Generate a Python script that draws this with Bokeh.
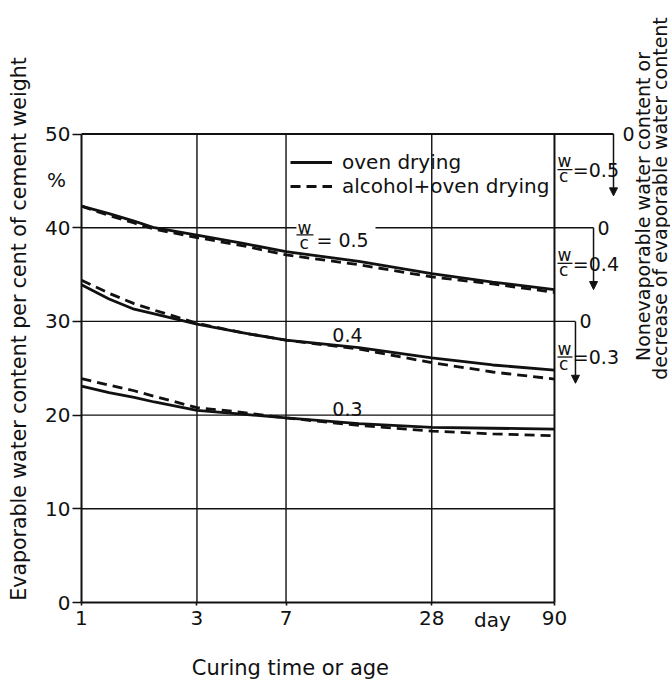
from math import pi
from bokeh.plotting import figure
from bokeh.models import (Range1d, FixedTicker, NumeralTickFormatter, Arrow,
                          NormalHead, Legend, LegendItem)
from bokeh.core.properties import value
from bokeh.embed import file_html
from bokeh.resources import INLINE

# ---------------- data ----------------
age_days = [1, 1.3, 1.65, 2, 3, 4.6, 7, 14, 28, 50, 90]
oven_wc05 = [42.3, 41.5, 40.7, 40.0, 39.2, 38.35, 37.45, 36.4, 35.1, 34.2, 33.4]
alcohol_wc05 = [42.3, 41.3, 40.5, 39.85, 38.95, 38.1, 37.1, 36.05, 34.75, 34.0, 33.1]
oven_wc04 = [33.9, 32.4, 31.3, 30.8, 29.7, 28.8, 28.0, 27.2, 26.1, 25.35, 24.8]
alcohol_wc04 = [34.4, 33.0, 31.9, 31.2, 29.8, 28.8, 28.0, 27.05, 25.6, 24.6, 23.85]
oven_wc03 = [23.1, 22.4, 21.9, 21.4, 20.5, 20.1, 19.7, 19.1, 18.7, 18.6, 18.5]
alcohol_wc03 = [23.9, 23.2, 22.6, 22.0, 20.8, 20.3, 19.7, 18.9, 18.3, 18.0, 17.8]

x_ticks = [1, 3, 7, 28, 90]
y_ticks = [0, 10, 20, 30, 40, 50]
wc_labels = ["0.5", "0.4", "0.3"]
scale_zero = [50, 40, 30]          # zero of the right-hand (nonevaporable) scales

FONT = "DejaVu Sans"
INK = "#111111"

# ---------------- figure: frame fills the canvas, axes fixed inside it ----------------
p = figure(width=670, height=682, x_axis_type="log",
           x_range=Range1d(0.4628, 271.4), y_range=Range1d(-8.538, 64.25),
           output_backend="svg", toolbar_location=None,
           min_border_left=0, min_border_right=0, min_border_top=0, min_border_bottom=0)
p.outline_line_color = None
p.grid.visible = False
p.background_fill_color = "white"

for ax in (p.xaxis[0], p.yaxis[0]):
    ax.axis_line_width = 2
    ax.axis_line_color = INK
    ax.major_tick_in = 0
    ax.major_tick_line_width = 1.6
    ax.major_tick_line_color = INK
    ax.minor_tick_line_color = None
    ax.major_label_text_font = FONT
    ax.major_label_text_font_size = "20px"
    ax.major_label_text_color = INK

p.xaxis.fixed_location = 0
p.xaxis.ticker = FixedTicker(ticks=x_ticks)
p.xaxis.formatter = NumeralTickFormatter(format="0")
p.xaxis.bounds = (1, 90)
p.xaxis.major_tick_out = 3
p.xaxis.major_label_standoff = 5

p.yaxis.fixed_location = 1
p.yaxis.ticker = FixedTicker(ticks=y_ticks)
p.yaxis.formatter = NumeralTickFormatter(format="0")
p.yaxis.bounds = (0, 50)
p.yaxis.major_tick_out = 9
p.yaxis.major_label_standoff = 2


def label(x, y, text, size="20px", align="center", angle=0.0):
    p.text(x=x if isinstance(x, list) else [x], y=y if isinstance(y, list) else [y],
           text=text if isinstance(text, list) else [text], angle=angle,
           text_font=value(FONT), text_font_size=size, text_align=align,
           text_baseline="middle", text_color=INK)


# axis titles and units
label(0.5518, 29.19, "Evaporable water content per cent of cement weight", size="20.5px",
      angle=pi / 2)
label(7.30, -7.04, "Curing time or age", size="21px")
label(0.788, 45.04, "%")
label(49.9, -1.92, "day")

# grid & frame lines (drawn through data scales)
bracket_x = [157.8, 130.5, 109.9]
vx = x_ticks[1:-1]
p.segment(x0=vx, y0=[0] * len(vx), x1=vx, y1=[50] * len(vx), line_color=INK, line_width=1.4)
p.segment(x0=[1, 1], y0=[10, 20], x1=[90, 90], y1=[10, 20], line_color=INK, line_width=1.4)
p.segment(x0=[1, 1, 16.4], y0=[30, 40, 40], x1=[bracket_x[2], 7.73, bracket_x[1]], y1=[30, 40, 40],
          line_color=INK, line_width=1.4)
p.segment(x0=[1, 90], y0=[50, 0], x1=[bracket_x[0], 90], y1=[50, 50], line_color=INK, line_width=2)

# right-hand scales: arrows pointing down from each zero
for bx, z in zip(bracket_x, scale_zero):
    p.add_layout(Arrow(x_start=bx, y_start=z, x_end=bx, y_end=z - 6.6, line_width=1.5,
                       line_color=INK,
                       end=NormalHead(size=8, fill_color=INK, line_color=INK)))
label([182.0, 143.5, 120.9], scale_zero, ["0"] * 3, size="19px")

# w/c labels next to the right scales
label([92.6] * 3, [z - 2.93 for z in scale_zero], ["w"] * 3, size="17px", align="left")
label([94.0] * 3, [z - 4.5 for z in scale_zero], ["c"] * 3, size="17px", align="left")
p.segment(x0=[92.6] * 3, y0=[z - 3.8 for z in scale_zero], x1=[106.8] * 3,
          y1=[z - 3.8 for z in scale_zero], line_color=INK, line_width=1.3)
label([107.2] * 3, [z - 3.85 for z in scale_zero], ["=" + w for w in wc_labels], size="19px",
      align="left")

# curves
curves = [(oven_wc05, alcohol_wc05), (oven_wc04, alcohol_wc04), (oven_wc03, alcohol_wc03)]
solid_r, dash_r = [], []
for oven, alc in curves:
    solid_r.append(p.line(age_days, oven, line_color=INK, line_width=2.8))
    dash_r.append(p.line(age_days, alc, line_color=INK, line_width=2.8, line_dash="10 6"))

# curve labels
label(7.81, 39.97, "w", size="17px", align="left")
label(7.96, 38.37, "c", size="17px", align="left")
p.segment(x0=[7.73], y0=[39.24], x1=[9.09], y1=[39.24], line_color=INK, line_width=1.3)
label(9.35, 38.69, "= " + wc_labels[0], size="19px", align="left")
label([12.56, 12.56], [28.5, 20.65], wc_labels[1:], size="19px")

# right-hand axis title (two lines, reading upwards)
label([209.9, 244.5], [42.26, 43.12],
      ["Nonevaporable water content or", "decrease of evaporable water content"],
      size="19px", angle=pi / 2)

# legend
legend = Legend(items=[LegendItem(label="oven drying", renderers=[solid_r[0]]),
                       LegendItem(label="alcohol+oven drying", renderers=[dash_r[0]])],
                location=(290, 484), padding=0, spacing=0, margin=0,
                glyph_width=42, glyph_height=24, label_height=24, label_standoff=10,
                border_line_color=None, background_fill_alpha=0,
                label_text_font=FONT, label_text_font_size="20px", label_text_color=INK)
p.add_layout(legend)

open("out.html", "w").write(file_html(p, INLINE))
